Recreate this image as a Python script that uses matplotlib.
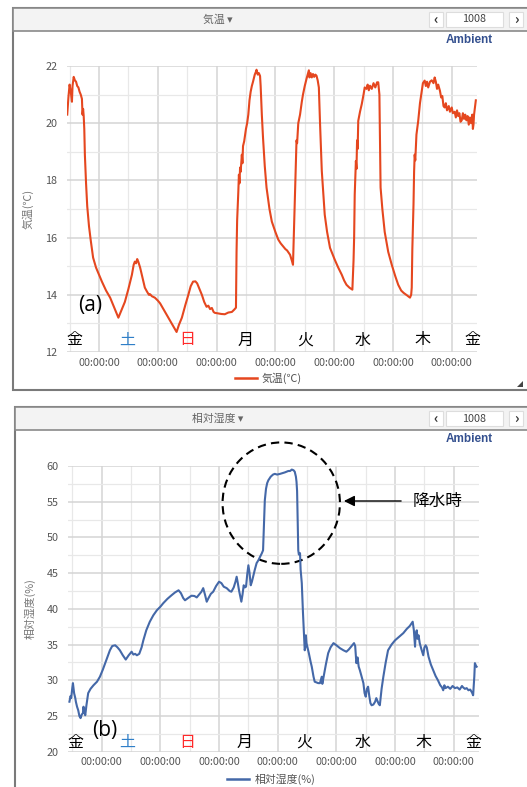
import matplotlib
matplotlib.use("Agg")
import matplotlib.pyplot as plt
from matplotlib.patches import Rectangle, Ellipse, Polygon
from matplotlib.ticker import MultipleLocator, FixedLocator

plt.rcParams['font.family'] = ['Noto Sans CJK JP', 'DejaVu Sans']

# x: days from the first midnight (Sat 00:00), one sample spread over 7 days
temp_days = [-0.54, -0.52, -0.50, -0.48, -0.46, -0.45, -0.43, -0.41, -0.39, -0.37,
             -0.35, -0.33, -0.31, -0.29, -0.28, -0.27, -0.26, -0.25, -0.24, -0.22,
             -0.20, -0.17, -0.14, -0.10, -0.05, 0.00, 0.05, 0.12, 0.19, 0.26,
             0.33, 0.38, 0.44, 0.50, 0.56, 0.59, 0.61, 0.63, 0.65, 0.67,
             0.70, 0.74, 0.78, 0.82, 0.85, 0.87, 0.90, 0.93, 0.95, 1.00,
             1.04, 1.11, 1.18, 1.25, 1.32, 1.36, 1.41, 1.47, 1.52, 1.56,
             1.60, 1.64, 1.67, 1.71, 1.75, 1.79, 1.83, 1.86, 1.89, 1.92,
             1.95, 1.97, 2.03, 2.08, 2.14, 2.20, 2.26, 2.30, 2.33, 2.34,
             2.35, 2.37, 2.38, 2.39, 2.40, 2.41, 2.43, 2.44, 2.45, 2.47,
             2.50, 2.52, 2.54, 2.56, 2.58, 2.60, 2.62, 2.65, 2.67, 2.68,
             2.70, 2.72, 2.74, 2.75, 2.77, 2.79, 2.82, 2.85, 2.90, 2.94,
             3.00, 3.05, 3.09, 3.13, 3.17, 3.20, 3.25, 3.28, 3.30, 3.32,
             3.33, 3.35, 3.36, 3.37, 3.39, 3.42, 3.45, 3.47, 3.50, 3.53,
             3.55, 3.57, 3.58, 3.60, 3.62, 3.64, 3.66, 3.68, 3.70, 3.72,
             3.74, 3.76, 3.79, 3.82, 3.84, 3.88, 3.93, 4.01, 4.07, 4.13,
             4.17, 4.21, 4.26, 4.31, 4.33, 4.34, 4.35, 4.37, 4.38, 4.39,
             4.40, 4.41, 4.44, 4.47, 4.50, 4.52, 4.55, 4.57, 4.59, 4.61,
             4.64, 4.67, 4.70, 4.73, 4.75, 4.77, 4.78, 4.79, 4.82, 4.86,
             4.92, 4.98, 5.04, 5.09, 5.14, 5.18, 5.24, 5.29, 5.31, 5.32,
             5.33, 5.35, 5.36, 5.37, 5.38, 5.40, 5.43, 5.46, 5.49, 5.51,
             5.54, 5.56, 5.58, 5.60, 5.63, 5.66, 5.69, 5.71, 5.73, 5.75,
             5.77, 5.80, 5.82, 5.84, 5.86, 5.88, 5.90, 5.92, 5.95, 5.97,
             6.00, 6.02, 6.05, 6.07, 6.09, 6.11, 6.13, 6.15, 6.17, 6.19,
             6.21, 6.23, 6.25, 6.27, 6.29, 6.31, 6.33, 6.35, 6.36, 6.37,
             6.38, 6.41]
temp_vals = [20.3, 20.9, 21.35, 21.1, 20.75, 21.3, 21.62, 21.5, 21.45, 21.3,
             21.25, 21.1, 21.0, 20.85, 20.3, 20.5, 20.25, 19.8, 18.9, 17.9,
             17.1, 16.4, 15.9, 15.3, 14.95, 14.7, 14.46, 14.15, 13.9, 13.55,
             13.2, 13.45, 13.75, 14.2, 14.7, 15.05, 15.16, 15.1, 15.25, 15.15,
             14.95, 14.6, 14.25, 14.1, 14.0, 14.02, 13.95, 13.92, 13.9, 13.8,
             13.7, 13.45, 13.2, 12.95, 12.7, 12.95, 13.2, 13.65, 14.0, 14.3,
             14.46, 14.47, 14.4, 14.2, 14.0, 13.75, 13.58, 13.62, 13.5, 13.54,
             13.4, 13.37, 13.35, 13.33, 13.32, 13.38, 13.4, 13.48, 13.55, 15.5,
             16.6, 17.6, 18.2, 17.9, 18.45, 18.3, 18.9, 18.6, 19.2, 19.37,
             19.8, 20.0, 20.3, 20.8, 21.1, 21.3, 21.45, 21.7, 21.8, 21.87,
             21.7, 21.75, 21.65, 21.3, 20.3, 19.5, 18.5, 17.75, 17.0, 16.56,
             16.2, 15.93, 15.8, 15.7, 15.6, 15.55, 15.4, 15.2, 15.05, 16.5,
             17.2, 18.6, 19.4, 19.3, 20.0, 20.3, 20.75, 21.0, 21.3, 21.55,
             21.7, 21.85, 21.6, 21.75, 21.6, 21.72, 21.62, 21.7, 21.66, 21.5,
             21.25, 20.0, 18.33, 17.4, 16.8, 16.2, 15.64, 15.23, 14.95, 14.7,
             14.5, 14.35, 14.25, 14.18, 15.2, 16.0, 17.5, 18.68, 18.4, 19.4,
             19.1, 20.08, 20.4, 20.67, 21.0, 21.25, 21.2, 21.35, 21.15, 21.31,
             21.2, 21.4, 21.25, 21.43, 21.43, 21.0, 19.5, 17.75, 17.0, 16.2,
             15.5, 15.05, 14.65, 14.35, 14.15, 14.07, 13.98, 13.9, 14.0, 14.25,
             15.6, 17.16, 18.3, 18.9, 18.7, 19.6, 20.08, 20.7, 21.13, 21.4,
             21.49, 21.3, 21.45, 21.25, 21.45, 21.5, 21.4, 21.6, 21.45, 21.2,
             21.35, 21.13, 20.9, 20.95, 20.6, 20.55, 20.7, 20.45, 20.6, 20.4,
             20.55, 20.35, 20.4, 20.2, 20.45, 20.25, 20.35, 20.05, 20.1, 20.35,
             20.15, 20.3, 20.1, 20.25, 19.95, 20.2, 20.0, 20.3, 19.8, 19.95,
             20.3, 20.8]

rh_days = [-0.55, -0.53, -0.52, -0.50, -0.49, -0.48, -0.47, -0.45, -0.44, -0.42,
           -0.40, -0.38, -0.36, -0.34, -0.32, -0.31, -0.30, -0.28, -0.26, -0.23,
           -0.19, -0.14, -0.08, -0.03, 0.02, 0.06, 0.10, 0.14, 0.18, 0.23,
           0.27, 0.31, 0.36, 0.41, 0.46, 0.51, 0.54, 0.57, 0.60, 0.64,
           0.68, 0.71, 0.76, 0.82, 0.88, 0.94, 1.00, 1.05, 1.12, 1.19,
           1.25, 1.31, 1.35, 1.39, 1.42, 1.47, 1.53, 1.58, 1.62, 1.66,
           1.70, 1.73, 1.76, 1.79, 1.82, 1.86, 1.90, 1.95, 2.00, 2.04,
           2.08, 2.13, 2.18, 2.21, 2.25, 2.28, 2.30, 2.32, 2.34, 2.36,
           2.38, 2.40, 2.42, 2.44, 2.46, 2.48, 2.50, 2.52, 2.54, 2.56,
           2.58, 2.61, 2.64, 2.67, 2.70, 2.73, 2.75, 2.76, 2.77, 2.78,
           2.80, 2.82, 2.84, 2.88, 2.92, 2.95, 2.99, 3.04, 3.08, 3.12,
           3.15, 3.18, 3.21, 3.24, 3.27, 3.29, 3.31, 3.32, 3.33, 3.34,
           3.35, 3.36, 3.38, 3.39, 3.41, 3.43, 3.45, 3.46, 3.47, 3.48,
           3.49, 3.51, 3.53, 3.56, 3.58, 3.61, 3.63, 3.66, 3.69, 3.72,
           3.74, 3.75, 3.76, 3.78, 3.82, 3.86, 3.90, 3.95, 4.00, 4.06,
           4.12, 4.17, 4.21, 4.26, 4.30, 4.32, 4.34, 4.36, 4.38, 4.40,
           4.43, 4.46, 4.48, 4.50, 4.52, 4.54, 4.56, 4.58, 4.60, 4.63,
           4.66, 4.68, 4.70, 4.72, 4.74, 4.77, 4.80, 4.84, 4.88, 4.94,
           5.00, 5.07, 5.14, 5.20, 5.25, 5.30, 5.32, 5.34, 5.35, 5.37,
           5.38, 5.40, 5.42, 5.45, 5.48, 5.50, 5.52, 5.54, 5.57, 5.61,
           5.65, 5.69, 5.73, 5.77, 5.80, 5.82, 5.84, 5.86, 5.90, 5.94,
           5.98, 6.02, 6.06, 6.10, 6.14, 6.16, 6.19, 6.22, 6.25, 6.28,
           6.31, 6.33, 6.35, 6.36, 6.38, 6.39]
rh_vals = [27.0, 27.8, 27.5, 29.0, 29.6, 28.9, 28.2, 27.5, 27.0, 26.3,
           25.8, 25.0, 24.7, 25.2, 25.4, 26.3, 25.7, 25.1, 26.5, 28.2,
           28.8, 29.3, 29.8, 30.5, 31.5, 32.4, 33.3, 34.2, 34.8, 34.9,
           34.6, 34.2, 33.5, 32.9, 33.5, 34.0, 33.6, 33.7, 33.5, 33.7,
           34.6, 35.6, 37.0, 38.2, 39.1, 39.8, 40.3, 40.8, 41.4, 41.9,
           42.3, 42.6, 42.2, 41.5, 41.2, 41.5, 41.84, 41.8, 41.6, 42.0,
           42.4, 42.9, 42.0, 41.0, 41.5, 42.1, 42.4, 43.2, 43.8, 43.6,
           43.1, 42.9, 42.5, 42.4, 43.0, 43.8, 44.5, 43.6, 42.6, 41.8,
           41.0, 42.0, 43.3, 43.0, 43.1, 44.8, 46.1, 45.0, 43.3, 43.8,
           44.5, 45.5, 46.4, 46.8, 47.3, 47.8, 48.2, 50.5, 53.0, 55.2,
           56.8, 57.6, 58.0, 58.5, 58.8, 58.9, 58.8, 58.9, 59.0, 59.1,
           59.2, 59.3, 59.3, 59.5, 59.4, 59.2, 58.5, 57.8, 56.5, 52.0,
           48.2, 47.6, 47.8, 45.5, 43.6, 39.5, 36.0, 34.2, 34.6, 36.3,
           35.2, 34.5, 33.8, 32.6, 31.9, 30.5, 29.8, 29.7, 29.6, 29.6,
           30.2, 30.5, 29.5, 30.4, 32.2, 33.8, 34.6, 35.2, 34.9, 34.5,
           34.2, 34.0, 34.3, 34.8, 35.2, 34.8, 32.4, 33.2, 31.9, 31.4,
           30.5, 29.6, 28.2, 27.7, 28.8, 29.1, 27.8, 26.8, 26.5, 26.6,
           27.0, 27.5, 27.1, 26.7, 26.5, 28.8, 30.5, 32.5, 34.2, 35.0,
           35.6, 36.1, 36.6, 37.2, 37.6, 38.2, 37.0, 34.7, 36.5, 37.0,
           35.8, 36.3, 35.2, 34.3, 33.5, 34.6, 34.9, 34.6, 33.3, 32.2,
           31.4, 30.6, 30.0, 29.3, 29.0, 28.6, 29.3, 28.9, 29.1, 28.8,
           29.2, 28.9, 29.0, 28.7, 29.2, 29.0, 28.8, 28.9, 28.6, 28.7,
           28.3, 27.9, 30.5, 32.4, 32.0, 31.9]

#曜日ラベル
weekdays = ['金', '土', '日', '月', '火', '水', '木', '金']
weekday_colors = ['black', '#2f7fc8', '#ff2a2a', 'black', 'black', 'black', 'black', 'black']
weekday_x_top = [-0.41, 0.48, 1.50, 2.49, 3.50, 4.49, 5.50, 6.35]
weekday_x_bot = [-0.45, 0.43, 1.45, 2.44, 3.46, 4.45, 5.49, 6.34]
midnights = [0, 1, 2, 3, 4, 5, 6]

TEMP_COLOR = '#e5471f'
RH_COLOR = '#4468a8'
GRAY = '#666666'
SMALL = 7.8

W, H = 527, 787
fig = plt.figure(figsize=(W / 100, H / 100), dpi=100)

# overlay in pixel coordinates for the widget chrome
bg = fig.add_axes([0, 0, 1, 1], zorder=0)
bg.set_xlim(0, W)
bg.set_ylim(H, 0)
bg.axis('off')


def panel(top, left, bottom, title):
    bg.add_patch(Rectangle((left, top), W + 20 - left, bottom - top, fc='white', ec='#7a7a7a', lw=1.5))
    bg.add_patch(Rectangle((left, top), W + 20 - left, 23, fc='#f3f3f3', ec='#8a8a8a', lw=1.2))
    bg.text(218, top + 12, title + ' ▾', ha='center', va='center', fontsize=SMALL, color=GRAY)
    bt = top + 4
    bg.add_patch(Rectangle((429, bt), 14, 15, fc='white', ec='#dddddd', lw=0.8))
    bg.add_patch(Rectangle((446, bt), 57, 15, fc='white', ec='#dddddd', lw=0.8))
    bg.add_patch(Rectangle((509, bt), 14, 15, fc='white', ec='#dddddd', lw=0.8))
    bg.text(436, bt + 7.5, '‹', ha='center', va='center', fontsize=10, color='#333333', fontweight='bold')
    bg.text(474, bt + 7.5, '1008', ha='center', va='center', fontsize=7.8, color='#444444')
    bg.text(516, bt + 7.5, '›', ha='center', va='center', fontsize=10, color='#333333', fontweight='bold')
    bg.text(469, top + 32, 'Ambient', ha='center', va='center', fontsize=8.5,
            fontweight='bold', color='#34508f', family=['Liberation Sans', 'DejaVu Sans'])


panel(8, 13, 390, '気温')
panel(407, 15, 800, '相対湿度')

# legends
bg.plot([235, 257], [378, 378], color=TEMP_COLOR, lw=1.8)
bg.text(262, 378, '気温(℃)', ha='left', va='center', fontsize=SMALL, color='#555555')
bg.plot([227, 249], [779, 779], color=RH_COLOR, lw=1.8)
bg.text(255, 779, '相対湿度(%)', ha='left', va='center', fontsize=SMALL, color='#555555')
bg.add_patch(Polygon([[523, 381], [523, 387], [517, 387]], closed=True, fc='#444444', ec='none'))


def style_axis(ax, ymajor, yminor):
    ax.set_facecolor('none')
    for s in ax.spines.values():
        s.set_visible(False)
    ax.xaxis.set_major_locator(FixedLocator(midnights))
    ax.xaxis.set_minor_locator(FixedLocator([m - 0.5 for m in midnights] + [6.5]))
    ax.yaxis.set_major_locator(MultipleLocator(ymajor))
    ax.yaxis.set_minor_locator(MultipleLocator(yminor))
    ax.grid(which='major', color='#d4d4d4', lw=1.1)
    ax.grid(which='minor', color='#e8e8e8', lw=0.9)
    ax.set_axisbelow(True)
    ax.set_xticklabels(['00:00:00'] * len(midnights))
    ax.tick_params(which='both', length=0, labelsize=SMALL, labelcolor='#555555')
    ax.tick_params(axis='x', pad=4)
    ax.tick_params(axis='y', pad=7)


# (a) 気温
ax1 = fig.add_axes([67 / W, 1 - 352 / H, 410 / W, 286 / H], zorder=1)
ax1.plot(temp_days, temp_vals, color=TEMP_COLOR, lw=1.5)
ax1.set_xlim(-0.544, 6.43)
ax1.set_ylim(12, 22)
style_axis(ax1, 2, 1)
ax1.set_ylabel('気温(℃)', fontsize=SMALL, color='#777777', labelpad=8)
for d, c, x in zip(weekdays, weekday_colors, weekday_x_top):
    ax1.text(x, 12.42, d, ha='center', va='center', fontsize=11.5, color=c)
ax1.text(-0.15, 13.62, '(a)', ha='center', va='center', fontsize=15,
         family=['Open Sans', 'DejaVu Sans'])

# (b) 相対湿度
ax2 = fig.add_axes([68.3 / W, 1 - 751.7 / H, 410.7 / W, 285.7 / H], zorder=1)
ax2.plot(rh_days, rh_vals, color=RH_COLOR, lw=1.5)
ax2.set_xlim(-0.569, 6.43)
ax2.set_ylim(20, 60)
style_axis(ax2, 5, 2.5)
ax2.set_ylabel('相対湿度(%)', fontsize=SMALL, color='#777777', labelpad=8)
for d, c, x in zip(weekdays, weekday_colors, weekday_x_bot):
    ax2.text(x, 21.3, d, ha='center', va='center', fontsize=11.5, color=c)
ax2.text(0.06, 22.9, '(b)', ha='center', va='center', fontsize=15,
         family=['Open Sans', 'DejaVu Sans'])

# 降水時の丸と矢印
ax2.add_patch(Ellipse((3.06, 54.8), 2.0, 17.0, fill=False, ec='black', lw=1.5,
                      ls=(0, (4, 2.5)), clip_on=False))
ax2.annotate('', xy=(4.08, 55.1), xytext=(5.15, 55.1),
             arrowprops=dict(arrowstyle='-|>', color='black', lw=1.0, mutation_scale=16),
             annotation_clip=False)
ax2.text(5.3, 55.1, '降水時', ha='left', va='center', fontsize=12)

fig.savefig('out.png', dpi=100)
